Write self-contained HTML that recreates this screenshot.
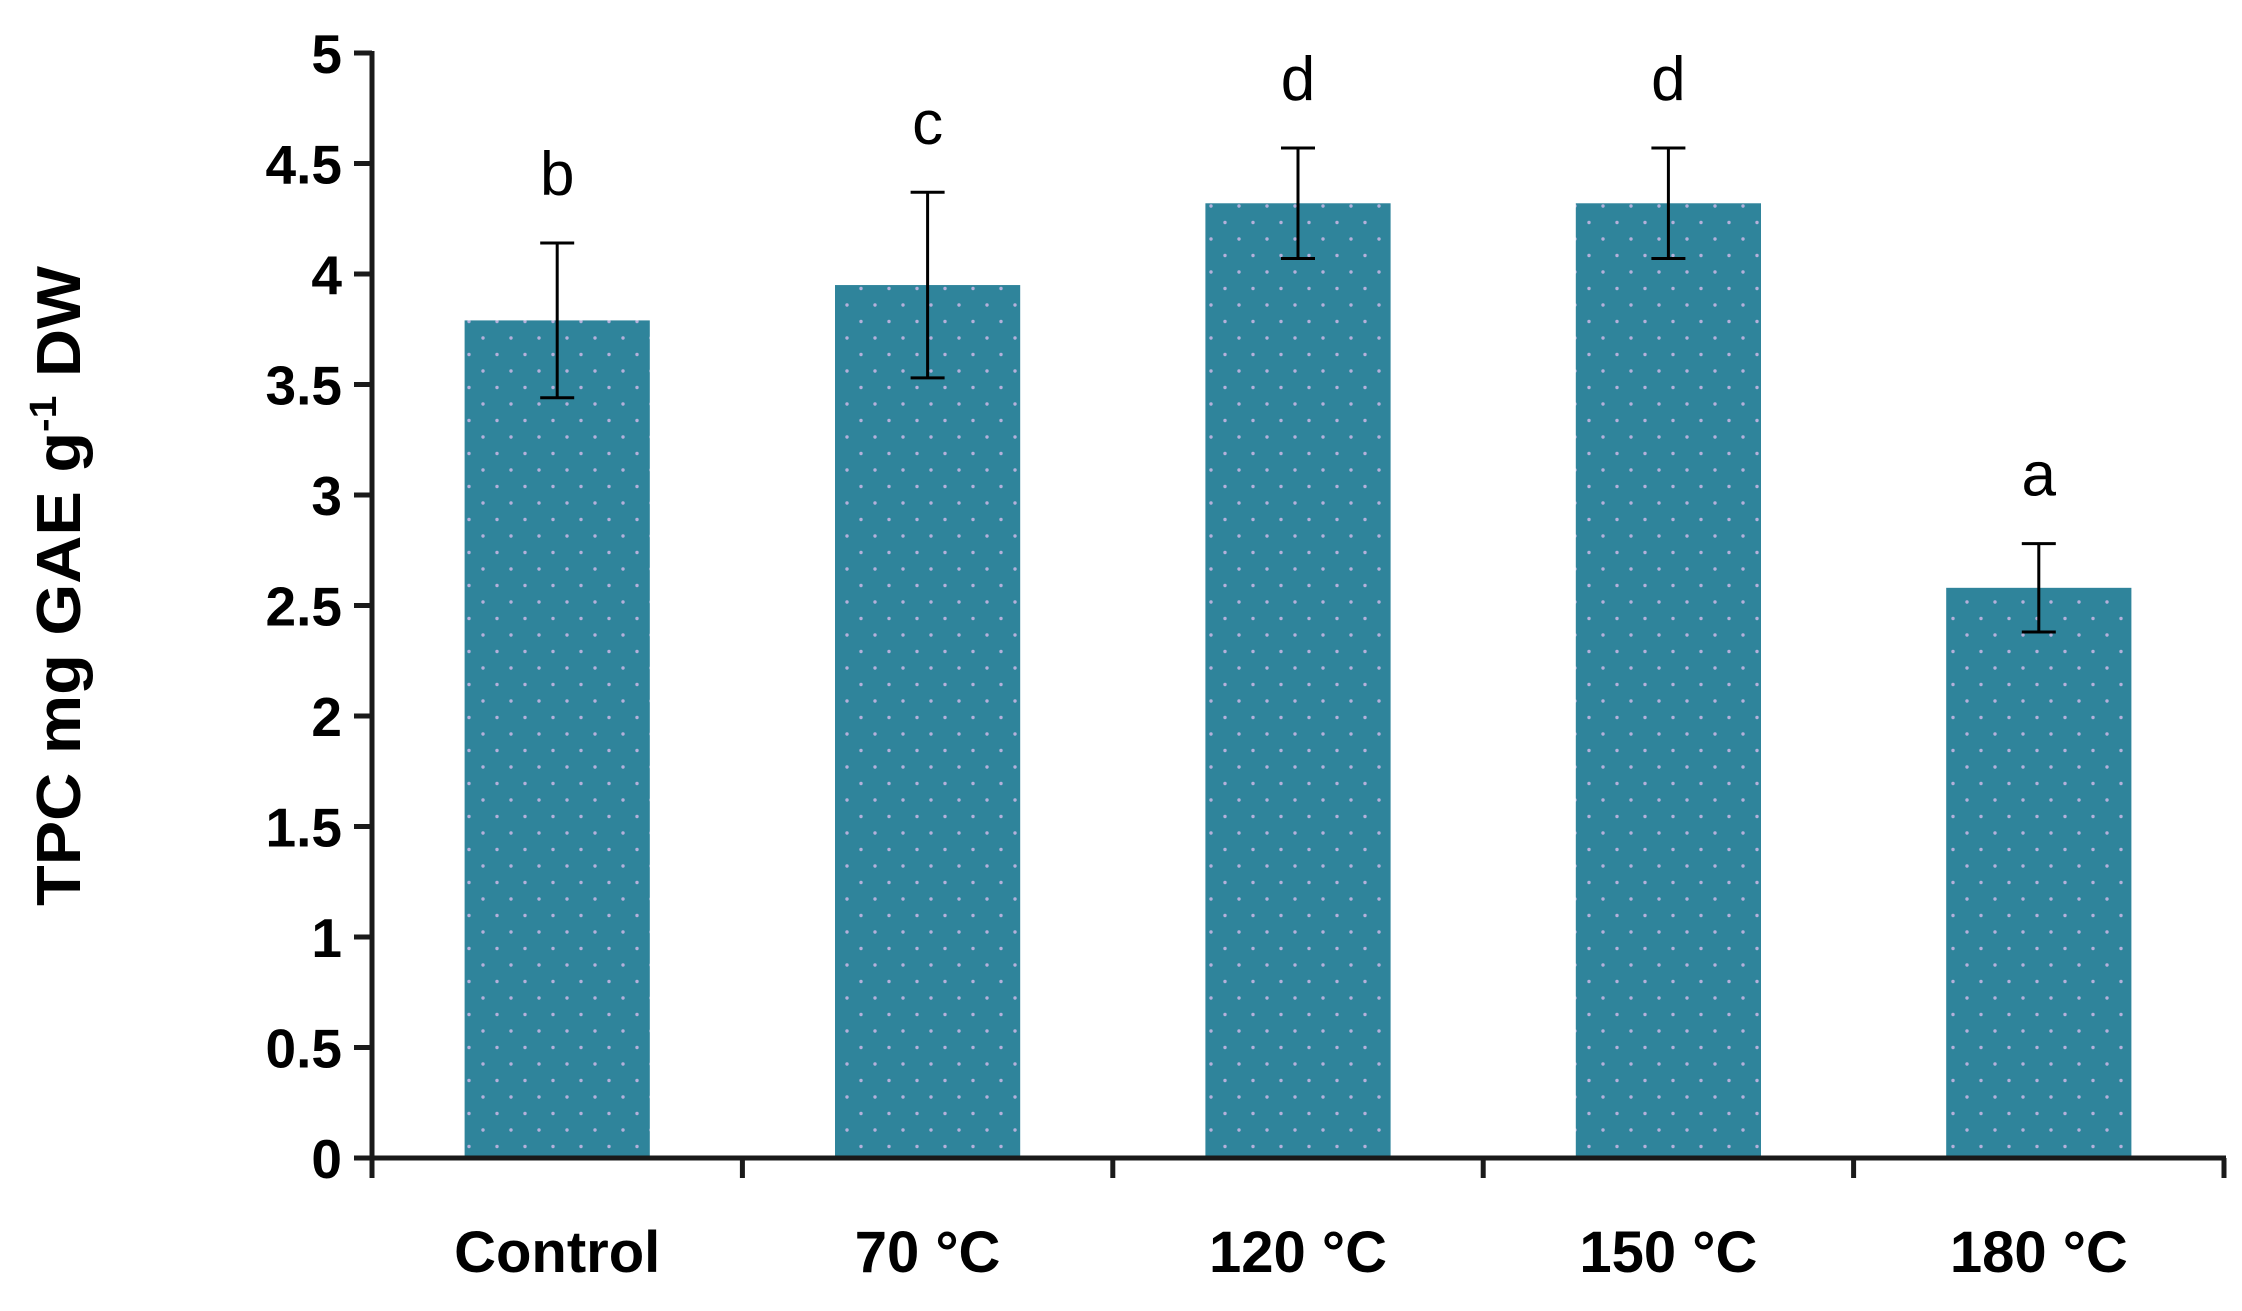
<!DOCTYPE html>
<html><head><meta charset="utf-8"><style>
html,body{margin:0;padding:0;background:#fff;width:2242px;height:1311px;overflow:hidden}
svg text{font-family:"Liberation Sans",sans-serif}
</style></head><body>
<svg id="chart" width="2242" height="1311" viewBox="0 0 2242 1311" xmlns="http://www.w3.org/2000/svg">
<defs>
<pattern id="dots" width="28" height="33" patternUnits="userSpaceOnUse">
<rect width="28" height="33" fill="#2f849b"/>
<circle cx="7" cy="8" r="1.7" fill="#b4b0da"/>
<circle cx="21" cy="24.5" r="1.7" fill="#b4b0da"/>
</pattern>
</defs>
<g id="plot"></g>
<text transform="translate(80,586) rotate(-90)" text-anchor="middle" font-size="62" font-weight="bold" fill="#000" textLength="640" lengthAdjust="spacingAndGlyphs">TPC mg GAE g<tspan dy="-24" font-size="38">-1</tspan><tspan dy="24"> DW</tspan></text>
</svg>
<script>
const categories = ["Control", "70 °C", "120 °C", "150 °C", "180 °C"];
const values = [3.79, 3.95, 4.32, 4.32, 2.58];
const errors = [0.35, 0.42, 0.25, 0.25, 0.2];
const letters = ["b", "c", "d", "d", "a"];
const yTicks = [0, 0.5, 1, 1.5, 2, 2.5, 3, 3.5, 4, 4.5, 5];
const yTickLabels = ["0", "0.5", "1", "1.5", "2", "2.5", "3", "3.5", "4", "4.5", "5"];

const NS = "http://www.w3.org/2000/svg";
const X0 = 372, X1 = 2224, Y0 = 1158, Y1 = 53, YMAX = 5;
const band = (X1 - X0) / categories.length;
function yScale(v){ return Y0 - (v / YMAX) * (Y0 - Y1); }
function xCenter(i){ return X0 + band * (i + 0.5); }
const g = document.getElementById('plot');
function mk(tag, attrs){ const e = document.createElementNS(NS, tag); for (const k in attrs) e.setAttribute(k, attrs[k]); g.appendChild(e); return e; }

categories.forEach((c, i) => {
  const bw = band * 0.5;
  const top = yScale(values[i]);
  const r = mk('rect', {x: xCenter(i) - bw/2, y: top, width: bw, height: Y0 - top, fill: 'url(#dots)'});
  
  
  const hi = yScale(values[i] + errors[i]), lo = yScale(values[i] - errors[i]);
  const eb = mk('path', {d: `M${xCenter(i)},${hi}V${lo}M${xCenter(i)-17},${hi}H${xCenter(i)+17}M${xCenter(i)-17},${lo}H${xCenter(i)+17}`, stroke: '#000', 'stroke-width': 3, fill: 'none'});
  
  
  const t = mk('text', {x: xCenter(i), y: hi - 48, 'text-anchor': 'middle', 'font-size': 62, fill: '#000'});
  t.textContent = letters[i];
  
  
  const cl = mk('text', {x: xCenter(i), y: 1272, 'text-anchor': 'middle', 'font-size': 58, 'font-weight': 'bold', fill: '#000'});
  cl.textContent = c;
  
  
});

const ya = mk('line', {x1: X0, y1: Y1 - 2, x2: X0, y2: Y0 + 20, stroke: '#1a1a1a', 'stroke-width': 5});


const xa = mk('line', {x1: X0 - 2, y1: Y0, x2: X1 + 2, y2: Y0, stroke: '#1a1a1a', 'stroke-width': 5});


for (let i = 0; i <= categories.length; i++) {
  const tk = mk('line', {x1: X0 + band * i, y1: Y0, x2: X0 + band * i, y2: Y0 + 20, stroke: '#1a1a1a', 'stroke-width': 5});
  
  
}
yTicks.forEach((v, i) => {
  const y = yScale(v);
  const tk = mk('line', {x1: X0 - 18, y1: y, x2: X0, y2: y, stroke: '#1a1a1a', 'stroke-width': 5});
  
  
  const tl = mk('text', {x: X0 - 30, y: y + 20, 'text-anchor': 'end', 'font-size': 55, 'font-weight': 'bold', fill: '#000'});
  tl.textContent = yTickLabels[i];
  
  
});
</script>
</body></html>
